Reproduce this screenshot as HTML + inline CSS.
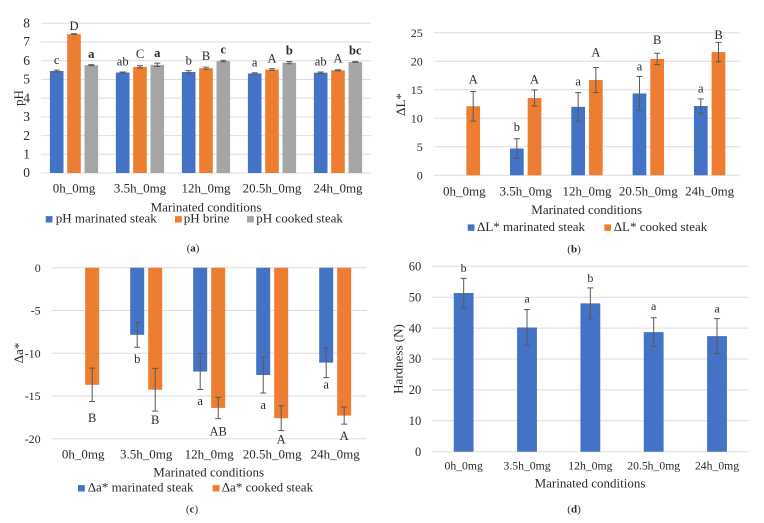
<!DOCTYPE html>
<html lang="en">
<head>
<meta charset="utf-8">
<title>Marinated steak charts</title>
<style>
html,body{margin:0;padding:0;background:#fff;}
body{width:764px;height:523px;overflow:hidden;}
svg{display:block;filter:blur(0.3px);}
text{font-family:"Liberation Serif",serif;fill:#2a2a2a;}
</style>
</head>
<body>
<svg id="figure" xmlns="http://www.w3.org/2000/svg" width="764" height="523" viewBox="0 0 764 523"></svg>
<script>
const categories = ['0h_0mg', '3.5h_0mg', '12h_0mg', '20.5h_0mg', '24h_0mg'];

const phTicks = [0, 1, 2, 3, 4, 5, 6, 7, 8];
const phMarinated = [5.45, 5.37, 5.40, 5.32, 5.36];
const phMarinatedErr = [0.05, 0.03, 0.07, 0.04, 0.04];
const phMarinatedLetters = ['c', 'ab', 'b', 'a', 'ab'];
const phBrine = [7.42, 5.67, 5.60, 5.53, 5.49];
const phBrineErr = [0.02, 0.06, 0.06, 0.05, 0.03];
const phBrineLetters = ['D', 'C', 'B', 'A', 'A'];
const phCooked = [5.76, 5.78, 5.98, 5.90, 5.93];
const phCookedErr = [0.03, 0.09, 0.04, 0.06, 0.02];
const phCookedLetters = ['a', 'a', 'c', 'b', 'bc'];

const dLTicks = [0, 5, 10, 15, 20, 25];
const dLMarinated = [null, 4.7, 12.0, 14.35, 12.15];
const dLMarinatedErr = [null, 1.7, 2.5, 3.0, 1.25];
const dLMarinatedLetters = ['', 'b', 'a', 'a', 'a'];
const dLCooked = [12.1, 13.55, 16.7, 20.4, 21.6];
const dLCookedErr = [2.6, 1.4, 2.2, 1.0, 1.7];
const dLCookedLetters = ['A', 'A', 'A', 'B', 'B'];

const daTicks = [0, -5, -10, -15, -20];
const daMarinated = [null, -7.85, -12.15, -12.55, -11.1];
const daMarinatedErr = [null, 1.45, 2.1, 2.1, 1.75];
const daMarinatedLetters = ['', 'b', 'a', 'a', 'a'];
const daCooked = [-13.7, -14.27, -16.4, -17.6, -17.3];
const daCookedErr = [1.95, 2.5, 1.25, 1.45, 1.0];
const daCookedLetters = ['B', 'B', 'AB', 'A', 'A'];

const hardnessTicks = [0, 10, 20, 30, 40, 50, 60];
const hardness = [51.35, 40.2, 48.0, 38.7, 37.4];
const hardnessErr = [4.75, 5.8, 5.0, 4.65, 5.65];
const hardnessLetters = ['b', 'a', 'b', 'a', 'a'];

const BLUE = '#4472C4', ORANGE = '#ED7D31', GREY = '#A5A5A5', GRID = '#DEDEDE', ERR = '#595959';
const NS = 'http://www.w3.org/2000/svg';
const fig = document.getElementById('figure');

function make(parent, tag, attrs, content) {
  const el = document.createElementNS(NS, tag);
  for (const k in attrs) el.setAttribute(k, attrs[k]);
  if (content !== undefined) el.textContent = content;
  parent.appendChild(el);
  return el;
}

function drawPanel(p) {
  const g = make(fig, 'g', {});
  
  

  const minV = Math.min(...p.ticks), maxV = Math.max(...p.ticks);
  const y = v => p.yBottom + (v - minV) / (maxV - minV) * (p.yTop - p.yBottom);
  const groupW = (p.x1 - p.x0) / categories.length;
  const groupC = i => p.x0 + groupW * (i + 0.5);

  p.ticks.forEach(t => {
    const line = make(g, 'line', {x1: p.x0, x2: p.x1, y1: y(t), y2: y(t), stroke: GRID, 'stroke-width': 1});
    
    
    const lab = make(g, 'text', {x: p.tickX, y: y(t) + 4.2, 'text-anchor': 'end', 'font-size': p.tickSize}, String(t));
    
    
  });

  categories.forEach((c, i) => {
    const lab = make(g, 'text', {x: groupC(i) + p.catShift, y: p.catY, 'text-anchor': 'middle', 'font-size': p.catSize}, c);
    
    
  });

  const n = p.series.length;
  p.series.forEach((s, si) => {
    const offset = (si - (n - 1) / 2) * (p.barW + p.gap);
    s.values.forEach((v, i) => {
      if (v === null) return;
      const cx = groupC(i) + offset;
      const top = Math.min(y(v), y(0)), h = Math.abs(y(v) - y(0));
      const bar = make(g, 'rect', {x: cx - p.barW / 2, y: top, width: p.barW, height: h, fill: s.color});
      
      

      const e = s.err[i];
      const eb = make(g, 'path', {
        d: `M${cx} ${y(v + e)}V${y(v - e)}M${cx - 3} ${y(v + e)}H${cx + 3}M${cx - 3} ${y(v - e)}H${cx + 3}`,
        stroke: ERR, 'stroke-width': 1, fill: 'none'
      });
      
      

      const letter = s.letters[i];
      if (letter) {
        const end = v < 0 ? y(v - e) + s.lift[i] : y(v + e) - s.lift[i];
        const t = make(g, 'text', {
          x: cx, y: end + 4, 'text-anchor': 'middle', 'font-size': p.letterSize,
          'font-weight': s.bold ? 'bold' : 'normal'
        }, letter);
        
        
      }
    });
  });

  const xt = make(g, 'text', {x: p.xTitleX, y: p.xTitleY, 'text-anchor': 'middle', 'font-size': 13}, 'Marinated conditions');
  
  

  const yt = make(g, 'text', {
    x: 0, y: 0, 'text-anchor': 'middle', 'font-size': 13,
    transform: `translate(${p.yTitleX + 4} ${p.yTitleY}) rotate(-90)`
  }, p.yTitle);
  
  

  p.legend.forEach(l => {
    const sw = make(g, 'rect', {x: l.swatchX, y: p.legendY - 6.6, width: 6.8, height: 6.4, fill: l.color});
    
    
    const t = make(g, 'text', {x: l.textX, y: p.legendY, 'font-size': 13}, l.label);
    
    
  });

  const cap = make(g, 'text', {x: p.capX, y: p.capY, 'text-anchor': 'middle', 'font-size': 11});
  
  
  make(cap, 'tspan', {}, '(');
  make(cap, 'tspan', {'font-weight': 'bold'}, p.capLetter);
  make(cap, 'tspan', {}, ')');
}

drawPanel({
  name: 'ph-chart', ticks: phTicks, x0: 41, x1: 371, yTop: 23.3, yBottom: 173,
  barW: 13.6, gap: 3.7, tickX: 30, tickSize: 13.5, catY: 192.7, catSize: 13, catShift: 0, letterSize: 12.5,
  xTitleX: 206, xTitleY: 211.3, yTitle: 'pH', yTitleX: 19, yTitleY: 98,
  legendY: 222.7, capX: 193, capY: 251.7, capLetter: 'a',
  legend: [
    {color: BLUE, swatchX: 45.7, textX: 55.7, label: 'pH marinated steak'},
    {color: ORANGE, swatchX: 175, textX: 183.7, label: 'pH brine'},
    {color: GREY, swatchX: 247, textX: 256.3, label: 'pH cooked steak'}
  ],
  series: [
    {values: phMarinated, err: phMarinatedErr, letters: phMarinatedLetters, color: BLUE, lift: [10, 10.3, 10.3, 10, 10.3]},
    {values: phBrine, err: phBrineErr, letters: phBrineLetters, color: ORANGE, lift: [8, 11.7, 11.3, 10.3, 11]},
    {values: phCooked, err: phCookedErr, letters: phCookedLetters, color: GREY, bold: true, lift: [10.7, 10.3, 10.7, 11, 11]}
  ]
});

drawPanel({
  name: 'delta-l-chart', ticks: dLTicks, x0: 433.7, x1: 740.3, yTop: 32.7, yBottom: 175.3,
  barW: 13.7, gap: 4, tickX: 422.7, tickSize: 12, catY: 195.7, catSize: 13, catShift: 0, letterSize: 12.5,
  xTitleX: 586.7, xTitleY: 214, yTitle: '\u0394L*', yTitleX: 401, yTitleY: 104.5,
  legendY: 231, capX: 574, capY: 252.3, capLetter: 'b',
  legend: [
    {color: BLUE, swatchX: 467.7, textX: 477, label: '\u0394L* marinated steak'},
    {color: ORANGE, swatchX: 604.3, textX: 613.7, label: '\u0394L* cooked steak'}
  ],
  series: [
    {values: dLMarinated, err: dLMarinatedErr, letters: dLMarinatedLetters, color: BLUE, lift: [0, 12, 11, 9.7, 10.3]},
    {values: dLCooked, err: dLCookedErr, letters: dLCookedLetters, color: ORANGE, lift: [12, 10.7, 15, 13, 7.3]}
  ]
});

drawPanel({
  name: 'delta-a-chart', ticks: daTicks, x0: 51.7, x1: 366.7, yTop: 267.7, yBottom: 438.7,
  barW: 14, gap: 4, tickX: 40.7, tickSize: 12, catY: 458.7, catSize: 13, catShift: 0, letterSize: 12.5,
  xTitleX: 208.7, xTitleY: 476.3, yTitle: '\u0394a*', yTitleX: 19, yTitleY: 353,
  legendY: 491.7, capX: 192, capY: 512.7, capLetter: 'c',
  legend: [
    {color: BLUE, swatchX: 78, textX: 87.7, label: '\u0394a* marinated steak'},
    {color: ORANGE, swatchX: 212.7, textX: 221.7, label: '\u0394a* cooked steak'}
  ],
  series: [
    {values: daMarinated, err: daMarinatedErr, letters: daMarinatedLetters, color: BLUE, lift: [0, 11.7, 11.7, 12, 6.7]},
    {values: daCooked, err: daCookedErr, letters: daCookedLetters, color: ORANGE, lift: [16.7, 8.7, 13, 9, 11.7]}
  ]
});

drawPanel({
  name: 'hardness-chart', ticks: hardnessTicks, x0: 432, x1: 748.7, yTop: 266.3, yBottom: 451.7,
  barW: 19.8, gap: 0, tickX: 421.3, tickSize: 12.5, catY: 469.3, catSize: 11.7, catShift: 0, letterSize: 12,
  xTitleX: 590, xTitleY: 487.7, yTitle: 'Hardness (N)', yTitleX: 398.7, yTitleY: 359,
  legendY: -100, capX: 574, capY: 512.7, capLetter: 'd',
  legend: [],
  series: [
    {values: hardness, err: hardnessErr, letters: hardnessLetters, color: BLUE, lift: [10.3, 11, 10, 11.7, 10]}
  ]
});
</script>
</body>
</html>
